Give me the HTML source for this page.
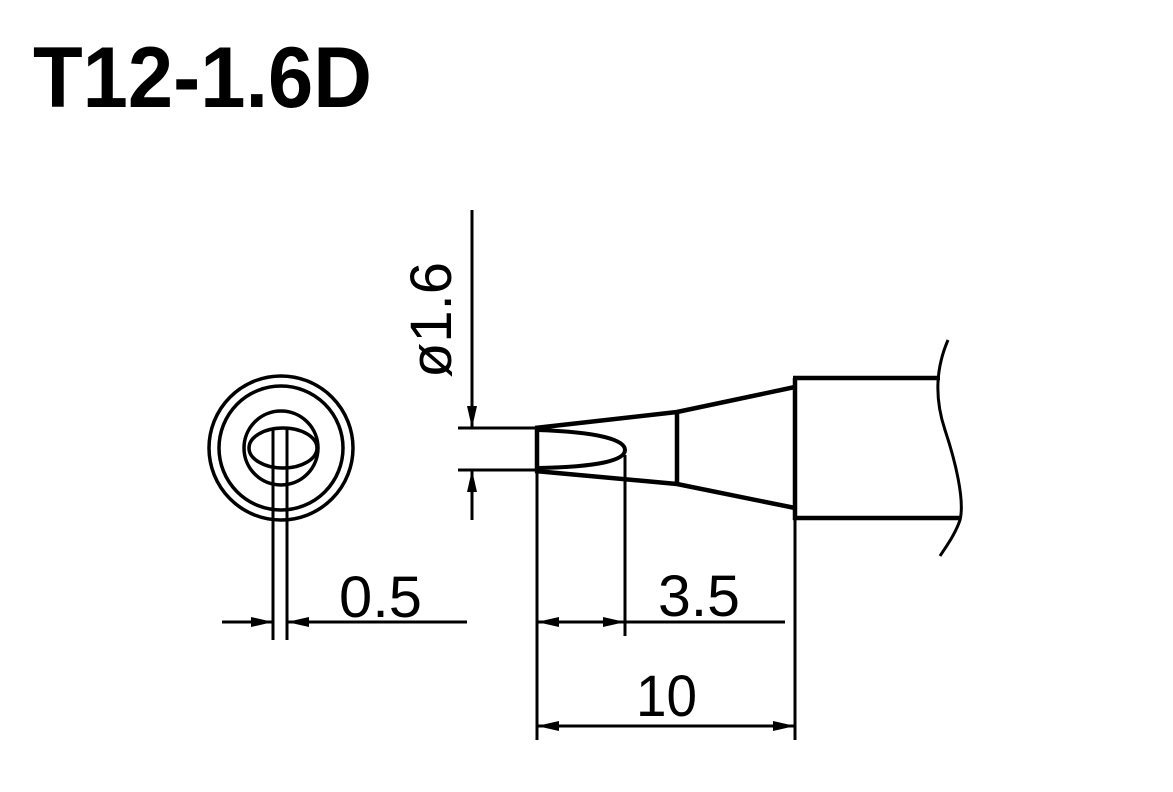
<!DOCTYPE html>
<html><head><meta charset="utf-8"><style>html,body{margin:0;padding:0;background:#fff}svg{display:block}</style></head>
<body>
<svg width="1173" height="792" viewBox="0 0 1173 792" xmlns="http://www.w3.org/2000/svg">
<defs>
<marker id="a" viewBox="0 0 22 10" refX="22" refY="5" markerWidth="22" markerHeight="10" markerUnits="userSpaceOnUse" orient="auto"><path d="M0,0 L22,5 L0,10 Z" fill="#000"/></marker>
</defs>
<text x="33" y="107" font-family="Liberation Sans, sans-serif" font-weight="bold" font-size="86" textLength="339" lengthAdjust="spacingAndGlyphs">T12-1.6D</text>
<g fill="none" stroke="#000" stroke-width="3.5">
<circle cx="281" cy="448" r="72"/>
<circle cx="281" cy="448" r="62"/>
<circle cx="281" cy="448" r="37"/>
<ellipse cx="283" cy="448" rx="34" ry="20"/>
</g>
<g stroke="#000" stroke-width="3" fill="none">
<line x1="273" y1="429" x2="273" y2="640"/>
<line x1="287" y1="429" x2="287" y2="640"/>
<line x1="222" y1="622" x2="273" y2="622" marker-end="url(#a)"/>
<line x1="467" y1="622" x2="287" y2="622" marker-end="url(#a)"/>
<line x1="472" y1="210" x2="472" y2="428" marker-end="url(#a)"/>
<line x1="472" y1="520" x2="472" y2="470" marker-end="url(#a)"/>
<line x1="458" y1="428" x2="537" y2="428"/>
<line x1="458" y1="470" x2="537" y2="470"/>
<line x1="537" y1="470" x2="537" y2="740"/>
<line x1="625" y1="455" x2="625" y2="636"/>
<line x1="795" y1="518" x2="795" y2="740"/>
<line x1="580" y1="622" x2="537" y2="622" marker-end="url(#a)"/>
<line x1="580" y1="622" x2="625" y2="622" marker-end="url(#a)"/>
<line x1="625" y1="622" x2="785" y2="622"/>
<line x1="667" y1="726" x2="537" y2="726" marker-end="url(#a)"/>
<line x1="667" y1="726" x2="795" y2="726" marker-end="url(#a)"/>
</g>
<g stroke="#000" stroke-width="4.5" fill="none" stroke-linejoin="round">
<path d="M535,428 L677,412 L795,387"/>
<path d="M535,471 L677,484 L795,508"/>
<line x1="537" y1="428" x2="537" y2="471"/>
<line x1="677" y1="414" x2="677" y2="483"/>
<path d="M537,430 C600,432 625,440 625,450 C625,460 600,467 537,468" stroke-width="4"/>
<path d="M795,378 L795,520"/>
<line x1="793" y1="378" x2="940" y2="378"/>
<line x1="793" y1="518" x2="960" y2="518"/>
</g>
<path d="M948,340 C935,370 935,400 945,430 C955,460 965,500 960,520 C955,535 945,548 940,556" stroke="#000" stroke-width="3" fill="none"/>
<g font-family="Liberation Sans, sans-serif" font-size="58" fill="#000">
<text x="339" y="617" textLength="83" lengthAdjust="spacingAndGlyphs">0.5</text>
<text x="658" y="616" textLength="82" lengthAdjust="spacingAndGlyphs">3.5</text>
<text x="636" y="716" textLength="61" lengthAdjust="spacingAndGlyphs">10</text>
<text transform="translate(451,378) rotate(-90)" textLength="116" lengthAdjust="spacingAndGlyphs">ø1.6</text>
</g>
</svg>
</body></html>
